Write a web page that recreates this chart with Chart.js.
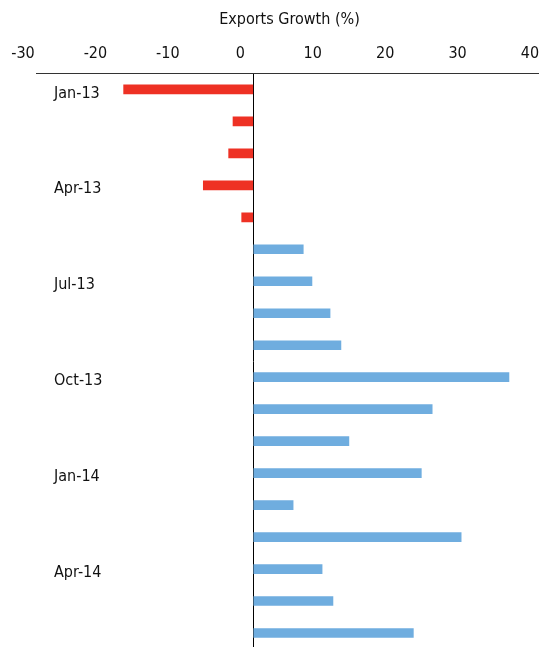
<!DOCTYPE html>
<html>
<head>
<meta charset="utf-8">
<script src="https://cdn.jsdelivr.net/npm/chart.js@4"></script>
<style>
    html, body { margin: 0; padding: 0; background: #fff; overflow: hidden; }
    #wrap { position: relative; width: 543px; height: 649px; }
</style>
</head>
<body>
<div id="wrap"><canvas id="chart"></canvas></div>
<script>
var months = ['Jan-13', 'Feb-13', 'Mar-13', 'Apr-13', 'May-13', 'Jun-13',
    'Jul-13', 'Aug-13', 'Sep-13', 'Oct-13', 'Nov-13', 'Dec-13',
    'Jan-14', 'Feb-14', 'Mar-14', 'Apr-14', 'May-14', 'Jun-14'];
var growth = [-17.9, -2.8, -3.4, -6.9, -1.6, 6.9,
    8.1, 10.6, 12.1, 35.3, 24.7, 13.2,
    23.2, 5.5, 28.7, 9.5, 11.0, 22.1];
var xTicks = [-30, -20, -10, 0, 10, 20, 30, 40];

var fontFamily = '"DejaVu Sans Condensed", "Liberation Sans Narrow", sans-serif';

var colors = [];
for (var i = 0; i < growth.length; i++) {
    colors.push(growth[i] < 0 ? '#ee3124' : '#6faddf');
}

// no automatic side padding, the plot runs edge to edge like the original
var noPadding = function (axis) {
    axis.paddingLeft = 0;
    axis.paddingRight = 0;
    axis.paddingTop = 0;
    axis.paddingBottom = 0;
};

var ctx = document.getElementById('chart');
var myChart = new Chart(ctx, {
    type: 'bar',
    data: {
        labels: months,
        datasets: [{
            label: 'Exports Growth (%)',
            data: growth,
            backgroundColor: colors,
            borderWidth: 0,
            barThickness: 9
        }]
    },
    options: {
        indexAxis: 'y',
        responsive: true,
        maintainAspectRatio: false,
        animation: false,
        devicePixelRatio: 1,
        layout: {
            padding: { top: 10, left: 36, right: 0, bottom: 0 }
        },
        plugins: {
            legend: { display: false },
            tooltip: { enabled: false }
        },
        scales: {
            x: {
                position: 'top',
                min: xTicks[0],
                max: xTicks[xTicks.length - 1],
                afterBuildTicks: function (axis) {
                    axis.ticks = xTicks.map(function (v) { return { value: v }; });
                },
                afterFit: noPadding,
                ticks: {
                    color: '#111',
                    padding: 10,
                    labelOffset: -13,
                    font: { family: fontFamily, size: 16 }
                },
                grid: {
                    drawTicks: false,
                    lineWidth: 1,
                    color: function (c) {
                        return c.tick && c.tick.value === 0 ? '#000' : 'rgba(0,0,0,0)';
                    }
                },
                border: { display: true, color: '#333', width: 1 },
                title: {
                    display: true,
                    text: 'Exports Growth (%)',
                    color: '#111',
                    padding: { top: 0, bottom: 5 },
                    font: { family: fontFamily, size: 16 }
                }
            },
            y: {
                afterFit: function (axis) {
                    noPadding(axis);
                    axis.width = 0;
                },
                grid: { display: false, drawTicks: false },
                border: { display: false },
                ticks: {
                    mirror: true,
                    padding: 18,
                    labelOffset: 4,
                    autoSkip: false,
                    color: '#111',
                    font: { family: fontFamily, size: 16 },
                    callback: function (value, index) {
                        return index % 3 === 0 ? months[index] : '';
                    }
                }
            }
        }
    }
});
</script>
</body>
</html>
